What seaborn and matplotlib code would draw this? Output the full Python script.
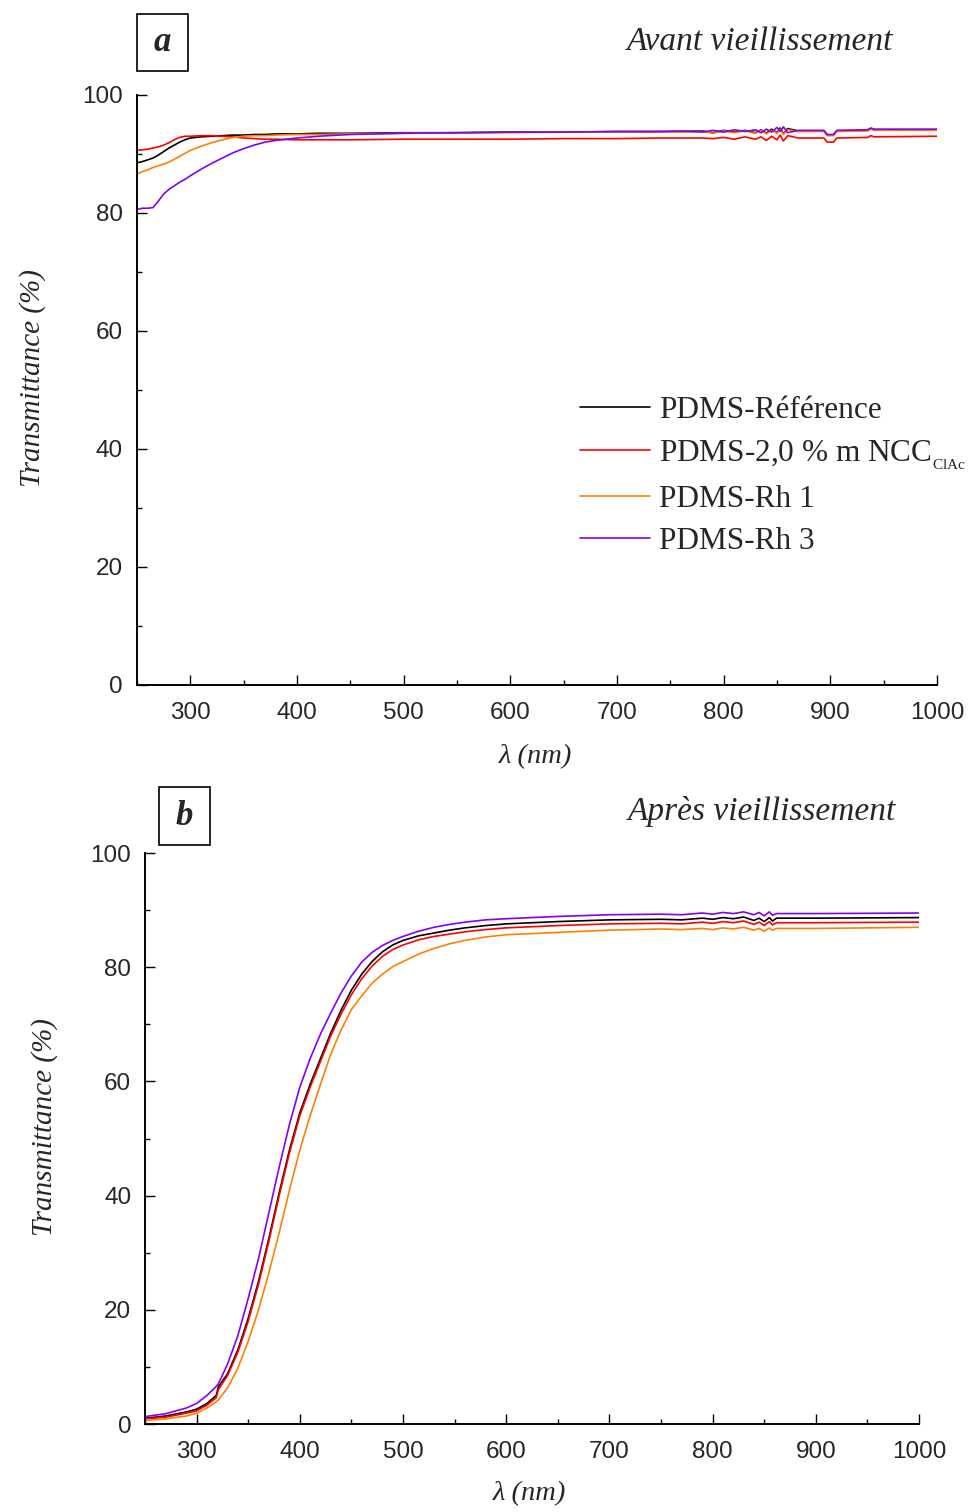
"""Transmittance spectra of PDMS films, before (a) and after (b) ageing."""
import matplotlib
matplotlib.use("Agg")
import matplotlib.pyplot as plt
import pandas as pd
import seaborn as sns
from matplotlib.patches import Rectangle
from matplotlib.ticker import MultipleLocator

SAMPLES = ["PDMS-Référence", "PDMS-2,0 % m NCC$_{_{\\mathrm{ClAc}}}$", "PDMS-Rh 1", "PDMS-Rh 3"]
COLORS = ["#000000", "#ff0000", "#ff8000", "#8000ff"]

# panel a : avant vieillissement
WL_A = [250, 255, 260, 265, 270, 275, 280, 285, 290, 295,
        300, 310, 320, 330, 340, 350, 360, 370, 380, 400,
        420, 450, 500, 550, 600, 650, 700, 740, 760, 780,
        790, 800, 810, 820, 830, 835, 840, 845, 850, 853,
        856, 860, 870, 894, 897, 903, 906, 935, 938, 941, 1000]
REF_A = [88.5, 88.7, 89.0, 89.3, 89.8, 90.4, 91.0, 91.5, 92.0, 92.4,
         92.7, 92.9, 93.0, 93.1, 93.2, 93.2, 93.3, 93.3, 93.4, 93.4,
         93.5, 93.5, 93.6, 93.6, 93.7, 93.7, 93.8, 93.8, 93.8, 93.9,
         93.6, 94.0, 93.7, 94.0, 93.6, 94.1, 93.5, 94.2, 93.6, 94.4,
         93.4, 94.3, 93.9, 93.9, 93.2, 93.2, 93.9, 94.0, 94.3, 94.1, 94.1]
NCC_A = [90.6, 90.7, 90.8, 91.0, 91.2, 91.5, 91.9, 92.4, 92.8, 93.0,
         93.0, 93.1, 93.1, 93.0, 92.9, 92.7, 92.6, 92.5, 92.5, 92.4,
         92.4, 92.4, 92.5, 92.5, 92.5, 92.6, 92.6, 92.7, 92.7, 92.7,
         92.6, 92.8, 92.5, 92.9, 92.5, 92.9, 92.3, 93.0, 92.4, 93.2,
         92.2, 93.1, 92.7, 92.7, 92.0, 92.0, 92.7, 92.8, 93.1, 92.9, 93.0]
RH1_A = [86.6, 87.0, 87.3, 87.7, 88.0, 88.3, 88.6, 89.1, 89.6, 90.1,
         90.6, 91.3, 91.9, 92.4, 92.8, 93.0, 93.1, 93.1, 93.2, 93.3,
         93.3, 93.4, 93.5, 93.6, 93.6, 93.7, 93.7, 93.7, 93.7, 93.8,
         93.5, 93.9, 93.6, 93.9, 93.5, 94.0, 93.4, 94.0, 93.5, 94.2,
         93.3, 94.1, 93.8, 93.8, 93.1, 93.1, 93.8, 93.9, 94.2, 94.0, 94.0]
RH3_A = [80.6, 80.8, 80.8, 80.9, 82.0, 83.2, 84.0, 84.6, 85.2, 85.7,
         86.3, 87.4, 88.4, 89.3, 90.2, 90.9, 91.5, 92.0, 92.3, 92.7,
         93.0, 93.3, 93.5, 93.6, 93.7, 93.7, 93.8, 93.8, 93.9, 93.7,
         94.0, 93.7, 94.1, 93.8, 94.1, 93.6, 94.2, 93.7, 94.5, 93.8,
         94.6, 93.6, 94.0, 94.0, 93.3, 93.3, 94.0, 94.1, 94.4, 94.2, 94.2]

# panel b : après vieillissement
WL_B = [250, 270, 290, 300, 310, 319, 321, 330, 340, 350,
        360, 370, 380, 390, 400, 410, 420, 430, 440, 450,
        460, 470, 480, 490, 500, 515, 530, 545, 560, 580,
        600, 650, 700, 750, 770, 790, 800, 810, 820, 830,
        840, 845, 850, 855, 858, 862, 900, 1000]
REF_B = [1.0, 1.4, 2.1, 2.6, 3.6, 5.0, 6.5, 8.8, 13.0, 18.5,
         25.0, 32.5, 40.5, 48.0, 54.5, 59.5, 64.0, 68.5, 72.5, 76.0,
         78.8, 81.0, 82.7, 83.9, 84.7, 85.5, 86.0, 86.5, 86.9, 87.3,
         87.6, 88.0, 88.3, 88.4, 88.3, 88.6, 88.4, 88.7, 88.5, 88.8,
         88.2, 88.6, 88.0, 88.7, 88.1, 88.6, 88.6, 88.7]
NCC_B = [0.9, 1.2, 1.9, 2.3, 3.3, 4.6, 6.0, 8.5, 12.6, 18.0,
         24.5, 32.0, 40.0, 47.5, 54.0, 59.0, 63.5, 68.0, 71.8, 75.2,
         78.0, 80.2, 81.9, 83.1, 83.9, 84.8, 85.4, 85.8, 86.2, 86.6,
         86.9, 87.3, 87.6, 87.7, 87.6, 87.9, 87.7, 88.0, 87.8, 88.1,
         87.5, 87.9, 87.3, 88.0, 87.4, 87.8, 87.8, 87.9]
RH1_B = [0.6, 0.9, 1.4, 1.9, 2.8, 3.9, 4.2, 6.3, 9.8, 14.5,
         20.0, 26.5, 33.5, 41.0, 48.0, 54.0, 59.5, 64.8, 69.0, 72.6,
         75.0, 77.2, 78.8, 80.1, 81.0, 82.3, 83.3, 84.1, 84.7, 85.3,
         85.7, 86.1, 86.5, 86.7, 86.6, 86.8, 86.6, 86.9, 86.7, 87.0,
         86.5, 86.8, 86.3, 86.9, 86.5, 86.8, 86.8, 87.0]
RH3_B = [1.3, 1.8, 2.8, 3.6, 5.0, 6.6, 7.0, 10.5, 15.5, 22.0,
         29.0, 37.0, 45.0, 52.5, 59.0, 64.0, 68.3, 72.0, 75.5, 78.5,
         80.9, 82.6, 83.8, 84.7, 85.4, 86.3, 87.0, 87.5, 87.9, 88.3,
         88.5, 88.9, 89.2, 89.3, 89.2, 89.5, 89.3, 89.6, 89.4, 89.7,
         89.2, 89.6, 89.0, 89.7, 89.1, 89.4, 89.4, 89.5]

X_TICKS = [300, 400, 500, 600, 700, 800, 900, 1000]
Y_TICKS = [0, 20, 40, 60, 80, 100]

SERIF = "Liberation Serif"
SANS = "Liberation Sans"


def long_frame(wl, series):
    frames = []
    for name, vals in zip(SAMPLES, series):
        frames.append(pd.DataFrame({"wl": wl, "T": vals, "sample": name}))
    return pd.concat(frames, ignore_index=True)


def style_axes(ax):
    sns.despine(ax=ax)
    ax.set_xlim(250, 1000)
    ax.set_ylim(0, 100)
    ax.set_xticks(X_TICKS)
    ax.set_yticks(Y_TICKS)
    ax.xaxis.set_minor_locator(MultipleLocator(50))
    ax.yaxis.set_minor_locator(MultipleLocator(10))
    ax.tick_params(which="both", direction="in", width=1.0, color="black",
                   labelsize=17.5, pad=10)
    ax.tick_params(which="major", length=7)
    ax.tick_params(which="minor", length=3.5)
    ax.tick_params(axis="x", pad=12)
    for lab in ax.get_xticklabels() + ax.get_yticklabels():
        lab.set_fontfamily(SANS)
    for sp in ("left", "bottom"):
        ax.spines[sp].set_linewidth(1.4)
        ax.spines[sp].set_color("black")
    ax.set_xlabel("λ (nm)", fontfamily=SERIF, fontstyle="italic", fontsize=20.5)
    ax.set_ylabel("Transmittance (%)", fontfamily=SERIF, fontstyle="italic", fontsize=21)


def draw_panel(ax, df):
    sns.lineplot(data=df, x="wl", y="T", hue="sample", hue_order=SAMPLES,
                 palette=COLORS, estimator=None, sort=False, linewidth=1.2,
                 legend=False, ax=ax)
    style_axes(ax)


def panel_box(fig, x0, y0, w, h, letter):
    fig.patches.append(Rectangle((x0, y0), w, h, transform=fig.transFigure,
                                 fill=False, edgecolor="black", linewidth=1.2))
    fig.text(x0 + w / 2, y0 + h / 2, letter, ha="center", va="center",
             fontfamily=SERIF, fontstyle="italic", fontweight="bold", fontsize=25)


def main():
    sns.set_theme(style="ticks")
    plt.rcParams["font.family"] = [SERIF, "DejaVu Sans"]
    plt.rcParams["mathtext.fontset"] = "custom"
    plt.rcParams["mathtext.rm"] = SERIF

    fig = plt.figure(figsize=(9.72, 15.12), dpi=100)
    fig.patch.set_facecolor("white")

    ax_a = fig.add_axes([0.1409, 0.5470, 0.8231, 0.3902])
    draw_panel(ax_a, long_frame(WL_A, [REF_A, NCC_A, RH1_A, RH3_A]))
    ax_a.xaxis.set_label_coords(0.4975, -0.10)
    ax_a.yaxis.set_label_coords(-0.114, 0.52)

    ax_b = fig.add_axes([0.1492, 0.0582, 0.7963, 0.3776])
    draw_panel(ax_b, long_frame(WL_B, [REF_B, NCC_B, RH1_B, RH3_B]))
    ax_b.xaxis.set_label_coords(0.497, -0.10)
    ax_b.yaxis.set_label_coords(-0.113, 0.52)

    leg = ax_a.legend(ax_a.get_lines()[:4], SAMPLES, loc="upper left",
                      bbox_to_anchor=(0.534, 0.516), frameon=False,
                      prop={"family": SERIF, "size": 22.5},
                      handlelength=2.25, handletextpad=0.28, labelspacing=0.42,
                      borderpad=0)
    for line in leg.get_lines():
        line.set_linewidth(1.2)

    fig.text(0.9187, 0.9722, "Avant vieillissement", ha="right", va="center",
             fontfamily=SERIF, fontstyle="italic", fontsize=24)
    fig.text(0.9218, 0.4636, "Après vieillissement", ha="right", va="center",
             fontfamily=SERIF, fontstyle="italic", fontsize=24)

    panel_box(fig, 0.1409, 0.9530, 0.0525, 0.0377, "a")
    panel_box(fig, 0.1636, 0.4411, 0.0525, 0.0384, "b")

    fig.savefig("out.png", dpi=100)
    plt.close(fig)


if __name__ == "__main__":
    main()
